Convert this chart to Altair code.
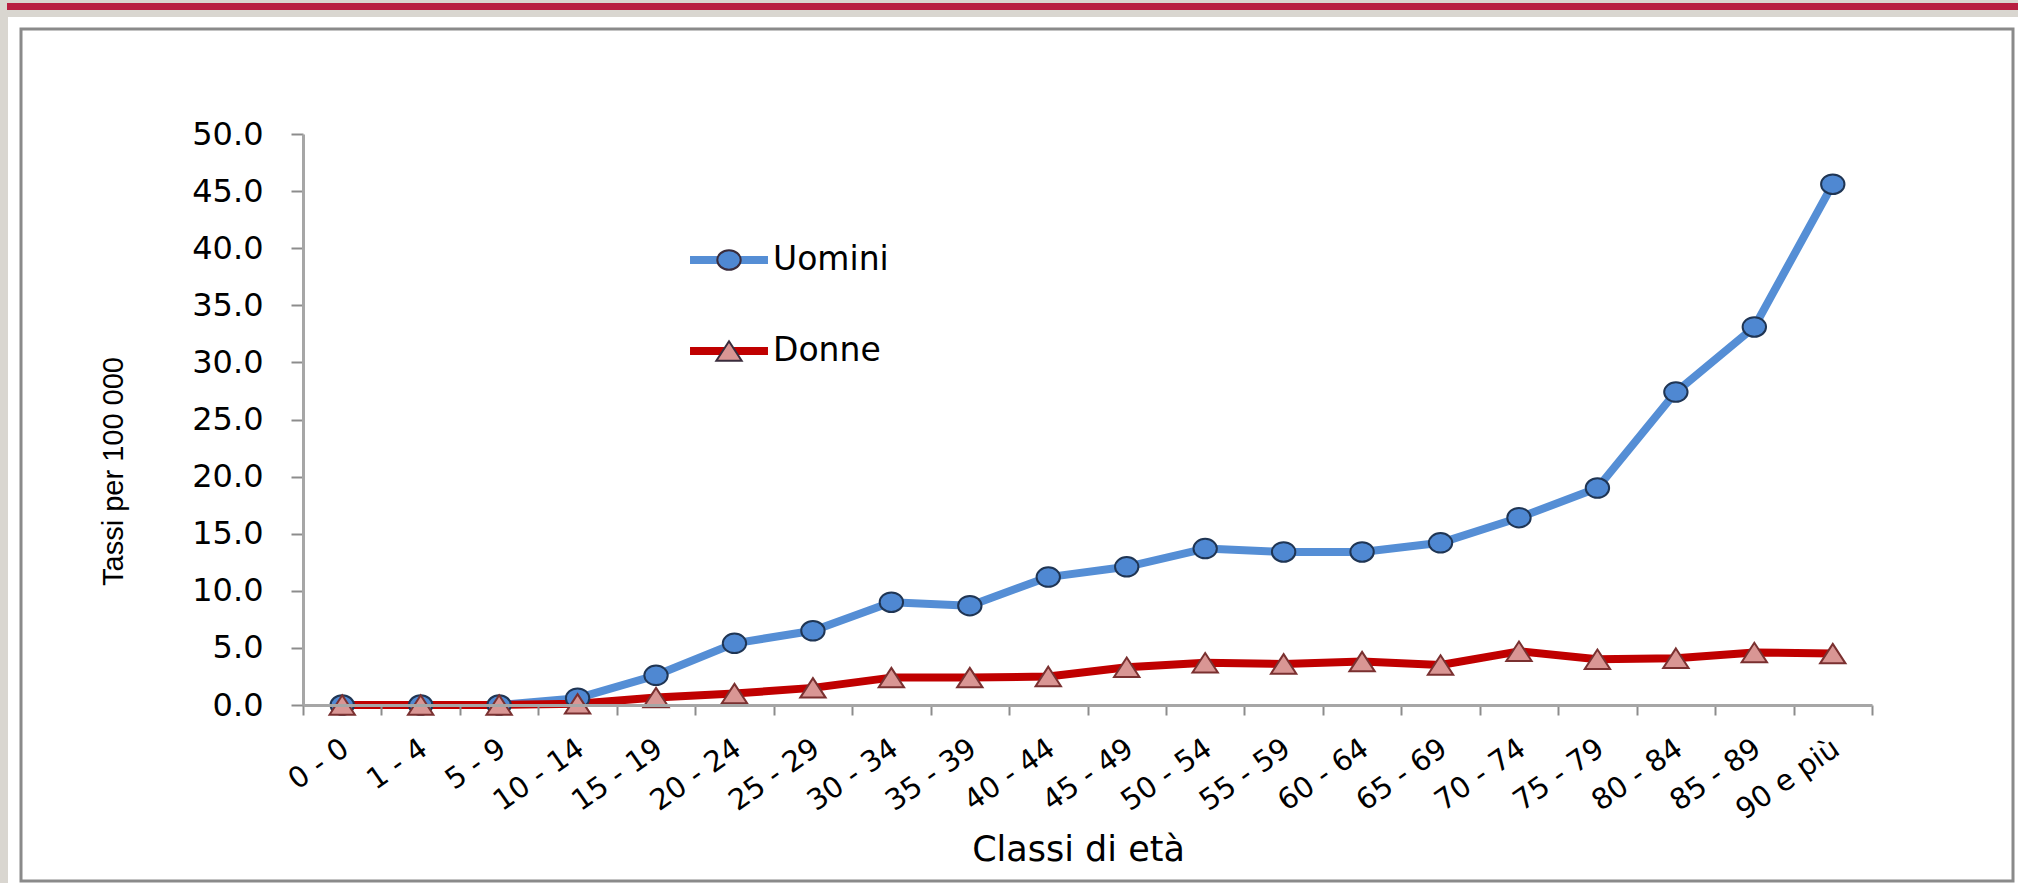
import altair as alt
import pandas as pd

# ---- data ----
classi = ["0 - 0", "1 - 4", "5 - 9", "10 - 14", "15 - 19", "20 - 24", "25 - 29",
          "30 - 34", "35 - 39", "40 - 44", "45 - 49", "50 - 54", "55 - 59",
          "60 - 64", "65 - 69", "70 - 74", "75 - 79", "80 - 84", "85 - 89",
          "90 e più"]
uomini = [0.0, 0.0, 0.0, 0.6, 2.6, 5.4, 6.5, 9.0, 8.7, 11.2, 12.1, 13.7, 13.4,
          13.4, 14.2, 16.4, 19.0, 27.4, 33.1, 45.6]
donne = [0.0, 0.0, 0.0, 0.1, 0.65, 1.0, 1.5, 2.4, 2.4, 2.5, 3.3, 3.7, 3.6,
         3.8, 3.5, 4.7, 4.0, 4.1, 4.6, 4.5]
serie = ["Uomini", "Donne"]
y_ticks = [0, 5, 10, 15, 20, 25, 30, 35, 40, 45, 50]

rows = []
for nome, valori in zip(serie, [uomini, donne]):
    for c, v in zip(classi, valori):
        rows.append({"classe": c, "sesso": nome, "tasso": v})
df = pd.DataFrame(rows)

# ---- layout (pixels) ----
CW, CH = 2018, 883
L, T = 303, 134
W, H = 1569, 571


def fx(v):
    return v - L


def fy(v):
    return v - T


line_colors = ["#558ED5", "#C00000"]
fill_colors = ["#4F88D2", "#D99694"]
edge_colors = {"Uomini": "#1F3554", "Donne": "#7A3030"}
ellipse = "M -1.2 0 A 1.2 1 0 1 0 1.2 0 A 1.2 1 0 1 0 -1.2 0 Z"
triangle = "M 0 -1 L 1.3 1 L -1.3 1 Z"
legend_line = "M -4.0 0 L 4.0 0"
MSIZE = 380

x_enc = alt.X(
    "classe:N", sort=classi, bandPosition=0.5, title="Classi di età",
    scale=alt.Scale(type="band", paddingInner=0, paddingOuter=0),
    axis=alt.Axis(
        zindex=1,
        labelAngle=-35, labelAlign="right", labelBaseline="middle",
        labelFont="DejaVu Sans", labelFontSize=29, labelColor="#000000",
        labelPadding=30, labelOffset=3, tickBand="extent", tickSize=10,
        tickWidth=2, tickColor="#8C8C8C", domainColor="#A6A6A6",
        domainWidth=3, grid=False, titleFont="DejaVu Sans",
        titleFontSize=35, titleFontWeight="normal", titleColor="#000000",
        titleX=1078 - L, titleY=849 - (T + H), titleAlign="center",
        titleBaseline="middle"),
)
y_enc = alt.Y(
    "tasso:Q", title="Tassi per 100 000",
    scale=alt.Scale(domain=[0, 50], nice=False),
    axis=alt.Axis(
        zindex=1,
        values=y_ticks, format=".1f", labelFont="DejaVu Sans",
        labelFontSize=32, labelColor="#000000", labelPadding=28,
        tickSize=12, tickWidth=2, tickColor="#8C8C8C",
        domainColor="#A6A6A6", domainWidth=3, grid=False,
        titleFont="Liberation Sans", titleFontSize=29,
        titleFontWeight="normal", titleColor="#000000",
        titleAngle=270, titleX=113 - L, titleY=471 - T,
        titleAlign="center", titleBaseline="middle"),
)

LEG_X, LEG_Y = 409.5, 109.5
leg_common = dict(orient="none", legendX=LEG_X, legendY=LEG_Y, padding=0,
                  title=None, direction="vertical", labelFont="DejaVu Sans",
                  labelFontSize=33, labelColor="#000000", labelOffset=27.5,
                  rowPadding=57, symbolSize=MSIZE, zindex=2)
legend_lines = alt.Legend(symbolType=legend_line, symbolStrokeWidth=8,
                          **leg_common)
legend_marks = alt.Legend(symbolStrokeWidth=2, symbolStrokeColor="#3A2C3C",
                          labelOpacity=0, **leg_common)

one = alt.Data(values=[{"d": 0}])

canvas = alt.Chart(one).mark_rect(color="#D9D6D0").encode(
    x=alt.value(fx(0)), x2=alt.value(fx(CW)),
    y=alt.value(fy(0)), y2=alt.value(fy(CH)))
page = alt.Chart(one).mark_rect(color="#FFFFFF").encode(
    x=alt.value(fx(8)), x2=alt.value(fx(CW)),
    y=alt.value(fy(17)), y2=alt.value(fy(CH)))
redbar = alt.Chart(one).mark_rect(color="#B81E41").encode(
    x=alt.value(fx(7)), x2=alt.value(fx(CW)),
    y=alt.value(fy(3)), y2=alt.value(fy(10)))
frame = alt.Chart(one).mark_rect(fillOpacity=0, stroke="#8A8A8A",
                                 strokeWidth=3).encode(
    x=alt.value(fx(21)), x2=alt.value(fx(2013)),
    y=alt.value(fy(29)), y2=alt.value(fy(881)))

lines = alt.Chart(df).mark_line(strokeWidth=8, strokeJoin="round",
                                strokeCap="round").encode(
    x=x_enc, y=y_enc,
    stroke=alt.Stroke("sesso:N", sort=serie,
                      scale=alt.Scale(range=line_colors),
                      legend=legend_lines),
)


def point_layer(nome):
    return alt.Chart(df).transform_calculate(serie="datum.sesso").transform_filter(
        alt.datum.sesso == nome
    ).mark_point(filled=True, opacity=1, size=MSIZE, strokeWidth=2,
                 stroke=edge_colors[nome]).encode(
        x=x_enc, y=y_enc,
        color=alt.Color("serie:N", sort=serie,
                        scale=alt.Scale(domain=serie, range=fill_colors),
                        legend=legend_marks),
        shape=alt.Shape("serie:N", sort=serie,
                        scale=alt.Scale(domain=serie, range=[ellipse, triangle]),
                        legend=legend_marks),
    )


chart = alt.layer(canvas, page, redbar, frame, lines,
                  point_layer("Uomini"), point_layer("Donne")).properties(
    width=W, height=H,
    autosize=alt.AutoSizeParams(type="none"),
    padding={"left": L, "top": T, "right": CW - L - W, "bottom": CH - T - H},
    background="#FFFFFF",
).configure_view(strokeWidth=0)

chart.save("out.html", embed_options={"renderer": "svg", "actions": False})
